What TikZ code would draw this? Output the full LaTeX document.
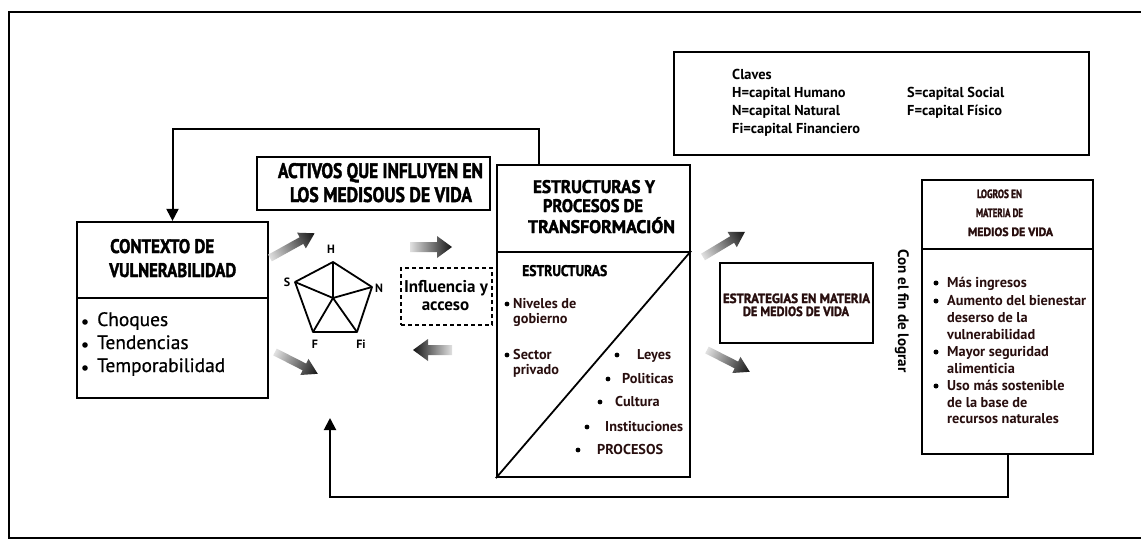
\documentclass[tikz,border=0pt]{standalone}
\usepackage{fontspec}
\usepackage{graphicx}
\setmainfont{PT Sans}
\newfontfamily\hvyf[FakeBold=2]{PT Sans}
\newfontfamily\medf[FakeBold=0.7]{PT Sans}
\usetikzlibrary{arrows.meta,calc}
\definecolor{ink}{RGB}{40,14,14}
\newlength\wref
\newcommand{\grpfont}[4]{%
  \settowidth{\wref}{#2\fontsize{10}{12}\selectfont #4}%
  \pgfmathsetmacro#1{10*#3/\wref}}
\newcommand{\rsz}[3]{\resizebox{#1pt}{#2pt}{#3}}
\newcommand{\rsw}[2]{\resizebox{#1pt}{!}{#2}}
\newcommand{\fatarr}[7]{%
  \begin{scope}[transform canvas={shift={(#1,#2)},rotate=#3}]
    \shade[left color=black!12,right color=black!92]
      (0,-#5) -- (#4-#7,-#5) -- (#4-#7,-#6) -- (#4,0) -- (#4-#7,#6) -- (#4-#7,#5) -- (0,#5) -- cycle;
  \end{scope}}
\begin{document}
\grpfont{\fcl}{\bfseries}{128}{Fi=capital Financiero}%
\grpfont{\fctx}{\medf}{128}{Temporabilidad}%
\grpfont{\fest}{\bfseries}{78}{Instituciones}%
\grpfont{\flog}{\bfseries}{139}{Aumento del bienestar}%
\grpfont{\finf}{\bfseries}{84}{Influencia y}%
\begin{tikzpicture}[x=1pt,y=-1pt,
  box/.style={draw=black, line width=2.2pt, inner sep=0pt},
  hv/.style={inner sep=0pt, anchor=base, font=\hvyf\bfseries},
  hvw/.style={inner sep=0pt, anchor=base west, font=\hvyf\bfseries},
  grp/.style={inner sep=0pt, anchor=base west, font=\bfseries\fontsize{#1}{14}\selectfont},
  grpi/.style={grp=#1, text=ink},
  dot/.style={fill=black},
  fb/.style={line width=2pt, -{Triangle[width=12pt,length=12pt]}},
  pent/.style={line width=1.8pt, line join=round},
  plab/.style={font=\bfseries\fontsize{12}{14}\selectfont, inner sep=0pt}]
\useasboundingbox (0,0) rectangle (1141,542);
\fill[white] (0,0) rectangle (1141,542);
% outer frame
\draw[line width=2pt] (1141,12) -- (9,12) -- (9,538) -- (1141,538);

% ---------------- Claves
\node[box, minimum width=415pt, minimum height=103pt] (clv) at (881.5,103.5) {};
\node[grp=\fcl] (cl0) at (732,79) {Claves};
\node[grp=\fcl] (cl1) at (732,97) {H=capital Humano};
\node[grp=\fcl] (cl2) at (732,115) {N=capital Natural};
\node[grp=\fcl] (cl3) at (732,133) {Fi=capital Financiero};
\node[grp=\fcl] (cl4) at (907,97) {S=capital Social};
\node[grp=\fcl] (cl5) at (907,115) {F=capital Físico};

% ---------------- Contexto de vulnerabilidad
\node[box, minimum width=191pt, minimum height=76pt] (ctxT) at (172.5,260) {};
\node[box, minimum width=191pt, minimum height=100pt] (ctxB) at (172.5,348) {};
\node[hvw] (ct1) at (110,253) {\rsz{104}{14}{CONTEXTO DE}};
\node[hvw] (ct2) at (109,277) {\rsz{127}{14}{VULNERABILIDAD}};
\fill[dot] (85,322) circle (2.8) (85,345) circle (2.8) (85,368) circle (2.8);
\node[grp=\fctx, font=\medf\fontsize{\fctx}{14}\selectfont] (ci1) at (97,326) {Choques};
\node[grp=\fctx, font=\medf\fontsize{\fctx}{14}\selectfont] (ci2) at (97,349) {Tendencias};
\node[grp=\fctx, font=\medf\fontsize{\fctx}{14}\selectfont] (ci3) at (97,372) {Temporabilidad};

% ---------------- Activos
\node[box, minimum width=233pt, minimum height=53pt] (act) at (373.5,183.5) {};
\node[hv] (a1) at (380.5,178) {\rsz{205}{15}{ACTIVOS QUE INFLUYEN EN}};
\node[hv] (a2) at (381,202) {\rsz{182}{15}{LOS MEDISOUS DE VIDA}};

% ---------------- pentagon
\coordinate (pH) at (333,262);
\coordinate (pS) at (295,282);
\coordinate (pN) at (372,287);
\coordinate (pFi) at (357,332);
\coordinate (pF) at (313,332);
\coordinate (pc) at (333,298);
\draw[pent] (pH) -- (pN) -- (pFi) -- (pF) -- (pS) -- cycle;
\draw[pent] (pc) -- (pH) (pc) -- (pS) (pc) -- (pN) (pc) -- (pFi) (pc) -- (pF);
\node[plab] (lH) at (331,249) {H};
\node[plab] (lS) at (287,282) {S};
\node[plab] (lN) at (379,288) {N};
\node[plab] (lF) at (315,344) {F};
\node[plab] (lFi) at (361,344) {Fi};

% ---------------- Influencia y acceso
\node[draw, line width=1.6pt, dash pattern=on 4pt off 3pt, minimum width=91pt, minimum height=57pt, inner sep=0pt] (infl) at (446.5,296.5) {};
\node[grp=\finf, anchor=base] (in1) at (446,292) {Influencia y};
\node[grp=\finf, anchor=base] (in2) at (445.5,310) {acceso};

% ---------------- Estructuras y procesos
\node[box, minimum width=193pt, minimum height=87pt] (estT) at (593.5,208.5) {};
\node[box, minimum width=193pt, minimum height=225pt] (estB) at (593.5,364.5) {};
\draw[line width=1.8pt] (estB.south west) -- (estB.north east);
\node[hv] (et1) at (594,193) {\rsz{122}{13}{ESTRUCTURAS Y}};
\node[hv] (et2) at (593,212) {\rsz{100}{13}{PROCESOS DE}};
\node[hv] (et3) at (601.5,233) {\rsz{147}{13}{TRANSFORMACI\smash{Ó}N}};
\node[hvw] (eE) at (522,276) {\rsz{85}{11}{ESTRUCTURAS}};
\fill[dot] (507,304) circle (2.4) (507,355) circle (2.4)
           (617,355) circle (2.4) (608,379) circle (2.4) (600,402) circle (2.4)
           (587,427) circle (2.4) (578,450) circle (2.4);
\node[grpi=\fest] (eN) at (513,308) {Niveles de};
\node[grpi=\fest] (eN2) at (513,323) {gobierno};
\node[grpi=\fest] (eS) at (513,359) {Sector};
\node[grpi=\fest] (eS2) at (513,374) {privado};
\node[grpi=\fest] (eL) at (637,359) {Leyes};
\node[grpi=\fest] (eP) at (622,383) {Politicas};
\node[grpi=\fest] (eC) at (615,406) {Cultura};
\node[grpi=\fest] (eI) at (605,431) {Instituciones};
\node[grpi=\fest] (ePr) at (597,454) {PROCESOS};

% ---------------- Estrategias
\node[box, minimum width=153pt, minimum height=80pt] (strat) at (796.5,303) {};
\node[hv, text=ink] (s1) at (796.5,303) {\rsz{147}{9.5}{ESTRATEGIAS EN MATERIA}};
\node[hv, text=ink] (s2) at (796,316) {\rsz{106}{9.5}{DE MEDIOS DE VIDA}};
\node[rotate=-90, inner sep=0pt, font=\bfseries] (fin) at (902,311) {\rsw{123}{Con el fin de lograr}};

% ---------------- Logros
\node[box, minimum width=171pt, minimum height=69pt] (logT) at (1007.5,214.5) {};
\node[box, minimum width=171pt, minimum height=205pt] (logB) at (1007.5,351.5) {};
\node[hv, text=ink] (l1) at (999.5,198) {\rsz{45}{8.5}{LOGROS EN}};
\node[hv, text=ink] (l2) at (999.5,217) {\rsz{47}{8.5}{MATERIA DE}};
\node[hv, text=ink] (l3) at (1010.5,236) {\rsz{85}{8.5}{MEDIOS DE VIDA}};
\fill[dot] (936,283) circle (2.5) (936,301) circle (2.5) (936,352) circle (2.5) (936,386) circle (2.5);
\node[grpi=\flog] (m1) at (947,287) {Más ingresos};
\node[grpi=\flog] (m2) at (947,305) {Aumento del bienestar};
\node[grpi=\flog] (m3) at (947,322) {deserso de la};
\node[grpi=\flog] (m4) at (947,339) {vulnerabilidad};
\node[grpi=\flog] (m5) at (947,356) {Mayor seguridad};
\node[grpi=\flog] (m6) at (947,373) {alimenticia};
\node[grpi=\flog] (m7) at (947,390) {Uso más sostenible};
\node[grpi=\flog] (m8) at (947,407) {de la base de};
\node[grpi=\flog] (m9) at (947,423) {recursos naturales};

% ---------------- feedback connectors
\coordinate (fbtop) at ($(estT.north west)+(43,0)$);
\draw[fb] (fbtop) -- ++(0,-35) -| (ctxT.north);
\coordinate (fbtip) at (330,418);
\draw[fb] (logB.south) -- ++(0,42) -| (fbtip);

% ---------------- thick shaded arrows
\fatarr{270}{258}{29}{51}{3.8}{9}{15}
\fatarr{275}{352}{-27}{48}{3.8}{9}{15}
\fatarr{410}{247}{0}{42}{5}{11}{15}
\fatarr{452}{350}{180}{39}{5}{11}{15}
\fatarr{703}{257}{31}{49}{3.8}{9}{15}
\fatarr{707}{350}{-27}{48}{3.8}{9}{15}
\end{tikzpicture}
\end{document}
